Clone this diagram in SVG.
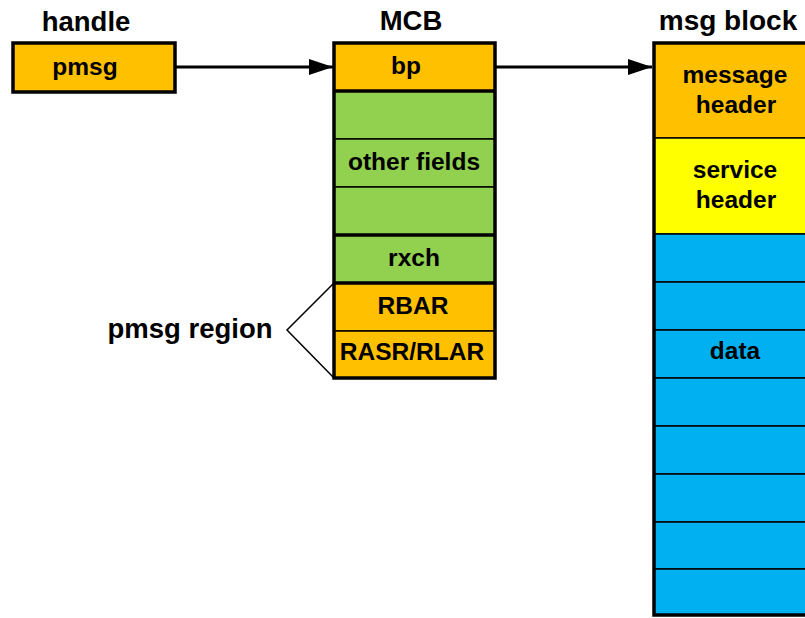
<svg xmlns="http://www.w3.org/2000/svg" width="805" height="618" viewBox="0 0 805 618">
  <style>
    text { font-family: "Liberation Sans", Arial, sans-serif; font-weight: bold; fill: #000; text-anchor: middle; }
    .title { font-size: 27.5px; }
    .lbl { font-size: 24.5px; }
    .cell { stroke: #000; stroke-width: 1.5; }
    .frame { fill: none; stroke: #000; stroke-width: 3.5; }
    .thick { stroke: #000; stroke-width: 3.5; }
    .orange { fill: #FFC000; }
    .green { fill: #92D050; }
    .yellow { fill: #FFFF00; }
    .blue { fill: #00B0F0; }
    .conn { stroke: #000; stroke-width: 3; fill: none; }
  </style>
  <defs>
    <marker id="arrow" markerUnits="userSpaceOnUse" markerWidth="24" markerHeight="16" refX="24" refY="8" orient="auto">
      <path d="M0,0 L24,8 L0,16 Z" fill="#000"/>
    </marker>
  </defs>
  <rect width="805" height="618" fill="#fff"/>

  <!-- handle -->
  <g id="handle">
    <text class="title" x="86" y="31">handle</text>
    <rect class="orange" x="13" y="43" width="162" height="49"/>
    <rect class="frame" x="13" y="43" width="162" height="49"/>
    <text class="lbl" x="85" y="75">pmsg</text>
  </g>

  <!-- MCB -->
  <g id="mcb">
    <text class="title" x="411" y="30">MCB</text>
    <rect class="orange cell" x="334" y="43" width="161" height="48"/>
    <rect class="green cell" x="334" y="91" width="161" height="48"/>
    <rect class="green cell" x="334" y="139" width="161" height="48"/>
    <rect class="green cell" x="334" y="187" width="161" height="48"/>
    <rect class="green cell" x="334" y="235" width="161" height="48"/>
    <rect class="orange cell" x="334" y="283" width="161" height="48"/>
    <rect class="orange cell" x="334" y="331" width="161" height="47"/>
    <line class="thick" x1="334" y1="91" x2="495" y2="91"/>
    <line class="thick" x1="334" y1="235" x2="495" y2="235"/>
    <line class="thick" x1="334" y1="283" x2="495" y2="283"/>
    <rect class="frame" x="334" y="43" width="161" height="335"/>
    <text class="lbl" x="406" y="74">bp</text>
    <text class="lbl" x="414" y="170">other fields</text>
    <text class="lbl" x="414" y="266">rxch</text>
    <text class="lbl" x="413" y="314">RBAR</text>
    <text class="lbl" x="412" y="360">RASR/RLAR</text>
  </g>

  <!-- pmsg region brace -->
  <g id="pmsg-region">
    <text class="title" x="190" y="338" font-size="28">pmsg region</text>
    <polyline points="334,283 287,330 334,378" fill="none" stroke="#000" stroke-width="1.5"/>
  </g>

  <!-- msg block -->
  <g id="msg-block">
    <text class="title" x="728" y="30" style="font-size:28px">msg block</text>
    <rect class="orange cell" x="654" y="43" width="170" height="95"/>
    <rect class="yellow cell" x="654" y="138" width="170" height="96"/>
    <rect class="blue cell" x="654" y="234" width="170" height="48"/>
    <rect class="blue cell" x="654" y="282" width="170" height="48"/>
    <rect class="blue cell" x="654" y="330" width="170" height="48"/>
    <rect class="blue cell" x="654" y="378" width="170" height="48"/>
    <rect class="blue cell" x="654" y="426" width="170" height="48"/>
    <rect class="blue cell" x="654" y="474" width="170" height="48"/>
    <rect class="blue cell" x="654" y="522" width="170" height="47"/>
    <rect class="blue cell" x="654" y="569" width="170" height="46"/>
    <rect class="frame" x="654" y="43" width="170" height="572" stroke-width="4"/>
    <text class="lbl" x="735" y="83">message</text>
    <text class="lbl" x="736" y="113">header</text>
    <text class="lbl" x="735" y="178">service</text>
    <text class="lbl" x="736" y="208">header</text>
    <text class="lbl" x="735" y="359">data</text>
  </g>

  <!-- connectors -->
  <g id="connectors">
    <line class="conn" x1="175" y1="67" x2="333" y2="67" marker-end="url(#arrow)"/>
    <line class="conn" x1="495" y1="67" x2="652" y2="67" marker-end="url(#arrow)"/>
  </g>
</svg>
